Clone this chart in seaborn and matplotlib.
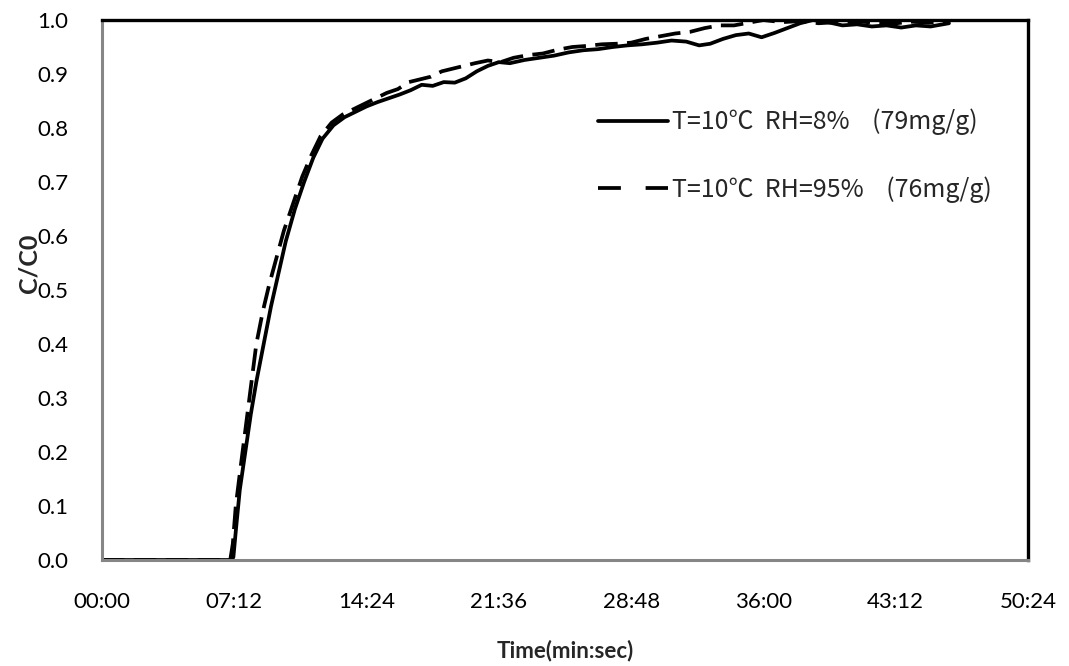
import numpy as np
import pandas as pd
import matplotlib
matplotlib.use("Agg")
import matplotlib.pyplot as plt
from matplotlib.lines import Line2D
from matplotlib.ticker import FixedLocator, FuncFormatter
import seaborn as sns

# Breakthrough curves, time in minutes, C/C0 dimensionless
t_dry = [0.0, 3.0, 6.0, 7.0, 7.15, 7.3, 7.5, 7.8, 8.1, 8.4, 8.8, 9.2, 9.6, 10.0, 10.5,
         11.0, 11.5, 12.0, 12.6, 13.2, 13.8, 14.4, 15.0, 15.6, 16.2, 16.8, 17.4, 18.0,
         18.6, 19.2, 19.8, 20.4, 21.0, 21.6, 22.2, 23.0, 23.8, 24.6, 25.4, 26.2, 27.0,
         27.8, 28.6, 29.4, 30.2, 31.0, 31.8, 32.5, 33.1, 33.8, 34.5, 35.2, 35.9, 36.6,
         37.3, 38.0, 38.7, 39.5, 40.3, 41.1, 41.9, 42.7, 43.5, 44.3, 45.1, 46.1]
c_dry = [0.0, 0.0, 0.0, 0.0, 0.005, 0.06, 0.13, 0.2, 0.27, 0.33, 0.4, 0.47, 0.53, 0.59, 0.65,
         0.70, 0.745, 0.78, 0.805, 0.82, 0.83, 0.84, 0.848, 0.855, 0.862, 0.87, 0.88, 0.878,
         0.885, 0.884, 0.892, 0.905, 0.915, 0.922, 0.92, 0.926, 0.93, 0.934, 0.94, 0.944, 0.946,
         0.95, 0.953, 0.955, 0.958, 0.962, 0.96, 0.953, 0.956, 0.965, 0.972, 0.975, 0.968, 0.976,
         0.985, 0.994, 1.0, 0.996, 0.99, 0.992, 0.988, 0.99, 0.986, 0.99, 0.988, 0.994]

t_wet = [0.0, 3.0, 6.0, 6.98, 7.12, 7.28, 7.5, 7.8, 8.1, 8.4, 8.75, 9.1, 9.5, 9.9, 10.4,
         10.9, 11.4, 11.9, 12.5, 13.1, 13.7, 14.3, 14.9, 15.5, 16.1, 16.7, 17.3, 17.9,
         18.5, 19.1, 19.7, 20.3, 21.0, 21.7, 22.4, 23.2, 24.0, 24.8, 25.6, 26.4, 27.2,
         28.0, 28.8, 29.6, 30.4, 31.2, 32.0, 32.8, 33.6, 34.4, 35.2, 36.0, 37.0, 38.0,
         39.0, 40.0, 41.0, 42.0, 43.0, 44.0, 45.0, 46.1]
c_wet = [0.0, 0.0, 0.0, 0.0, 0.03, 0.1, 0.16, 0.24, 0.32, 0.4, 0.46, 0.51, 0.56, 0.61, 0.66,
         0.71, 0.75, 0.785, 0.81, 0.825, 0.835, 0.845, 0.855, 0.865, 0.872, 0.885, 0.89, 0.895,
         0.905, 0.91, 0.915, 0.92, 0.925, 0.922, 0.93, 0.935, 0.938, 0.945, 0.95, 0.952, 0.955,
         0.956, 0.958, 0.965, 0.97, 0.975, 0.978, 0.985, 0.99, 0.99, 0.995, 1.0, 0.996, 0.998,
         0.994, 0.996, 0.998, 0.995, 0.993, 0.997, 0.995, 0.998]

series_labels = ["T=10\u2103  RH=8%    (79mg/g)", "T=10\u2103  RH=95%    (76mg/g)"]
x_ticks = [0.0, 7.2, 14.4, 21.6, 28.8, 36.0, 43.2, 50.4]
y_ticks = [0.0, 0.1, 0.2, 0.3, 0.4, 0.5, 0.6, 0.7, 0.8, 0.9, 1.0]

df = pd.concat([
    pd.DataFrame({"time": t_dry, "ratio": c_dry, "series": series_labels[0]}),
    pd.DataFrame({"time": t_wet, "ratio": c_wet, "series": series_labels[1]}),
], ignore_index=True)

sns.set_theme(style="white")
plt.rcParams["font.family"] = ["Lato", "Noto Sans CJK SC", "DejaVu Sans"]

W, H = 1069, 666
left_px, right_px, top_px, bottom_px = 102, 1028, 20, 560
fig = plt.figure(figsize=(W / 100, H / 100), dpi=100)
ax = fig.add_axes([left_px / W, 1 - bottom_px / H,
                   (right_px - left_px) / W, (bottom_px - top_px) / H])

lw = 2.7
sns.lineplot(data=df, x="time", y="ratio", style="series",
             dashes={series_labels[0]: "", series_labels[1]: (6, 2.5)},
             color="black", linewidth=lw, estimator=None, sort=False,
             legend=False, ax=ax)

ax.set_xlim(0, 50.4)
ax.set_ylim(0, 1.0)
ax.xaxis.set_major_locator(FixedLocator(x_ticks))
ax.yaxis.set_major_locator(FixedLocator(y_ticks))


def mmss(v, _pos):
    total = int(round(v * 60))
    return f"{total // 60:02d}:{total % 60:02d}"


ax.xaxis.set_major_formatter(FuncFormatter(mmss))
ax.yaxis.set_major_formatter(FuncFormatter(lambda v, _p: f"{v:.1f}"))
ax.tick_params(axis="both", length=0, labelsize=16, colors="black")
ax.tick_params(axis="x", pad=23)
ax.tick_params(axis="y", pad=24)

for side in ("top", "right"):
    ax.spines[side].set_color("black")
    ax.spines[side].set_linewidth(2.4)
for side in ("left", "bottom"):
    ax.spines[side].set_color("#868686")
    ax.spines[side].set_linewidth(2.2)
ax.grid(False)

ax.set_xlabel("Time(min:sec)", fontsize=16, fontweight="bold", labelpad=20)
ax.set_ylabel("C/C0", fontsize=18, fontweight="bold")
ax.yaxis.set_label_coords(-0.066, 0.55)

handles = [
    Line2D([], [], color="black", linewidth=lw),
    Line2D([], [], color="black", linewidth=lw, dashes=(6.1, 6.6)),
]
leg_x = (598 - left_px) / (right_px - left_px)
leg_y = (bottom_px - 156) / (bottom_px - top_px)
ax.legend(handles, series_labels, loc="center left", bbox_to_anchor=(leg_x, leg_y),
          frameon=False, handlelength=2.8, handletextpad=0.16,
          labelspacing=1.65, borderaxespad=0, borderpad=0,
          prop={"family": ["Noto Sans CJK SC", "DejaVu Sans"], "size": 18})

fig.savefig("out.png", dpi=100, facecolor="white")
